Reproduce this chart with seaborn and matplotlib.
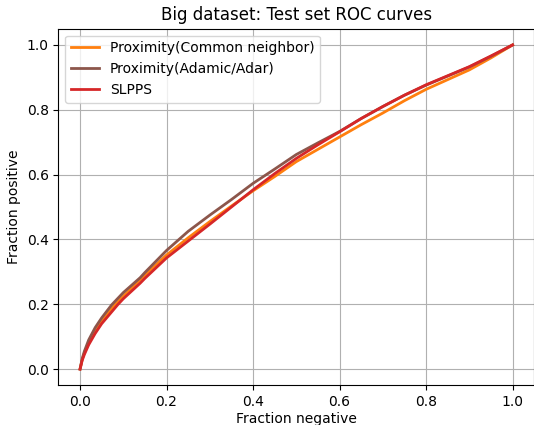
import matplotlib
matplotlib.use("Agg")
import matplotlib.pyplot as plt
import seaborn as sns
import pandas as pd

# ROC curves on the test set (false positive fraction vs true positive fraction)
fpr_common = [0.0, 0.005, 0.01, 0.02, 0.035, 0.05, 0.08, 0.1, 0.15, 0.2, 0.25, 0.3, 0.35, 0.4, 0.45,
              0.5, 0.55, 0.6, 0.65, 0.7, 0.75, 0.8, 0.85, 0.9, 0.95, 1.0]
tpr_common = [0.0, 0.03, 0.05, 0.08, 0.118, 0.148, 0.198, 0.225, 0.29, 0.352, 0.405, 0.455, 0.503, 0.55, 0.594,
              0.64, 0.678, 0.716, 0.754, 0.79, 0.828, 0.863, 0.893, 0.923, 0.96, 1.0]

fpr_adamic = [0.0, 0.005, 0.01, 0.02, 0.035, 0.05, 0.073, 0.1, 0.139, 0.15, 0.2, 0.25, 0.3, 0.35, 0.4,
              0.45, 0.5, 0.55, 0.6, 0.65, 0.7, 0.75, 0.8, 0.85, 0.9, 0.95, 1.0]
tpr_adamic = [0.0, 0.032, 0.055, 0.09, 0.128, 0.158, 0.198, 0.236, 0.282, 0.298, 0.366, 0.425, 0.475, 0.523, 0.573,
              0.617, 0.662, 0.698, 0.733, 0.773, 0.81, 0.845, 0.876, 0.904, 0.932, 0.965, 1.0]

fpr_slpps = [0.0, 0.005, 0.01, 0.02, 0.035, 0.05, 0.088, 0.1, 0.139, 0.15, 0.2, 0.25, 0.3, 0.35, 0.4, 0.45,
             0.5, 0.55, 0.6, 0.65, 0.7, 0.75, 0.8, 0.85, 0.9, 0.95, 1.0]
tpr_slpps = [0.0, 0.027, 0.045, 0.075, 0.11, 0.14, 0.2, 0.217, 0.265, 0.28, 0.343, 0.395, 0.447, 0.5, 0.553, 0.603,
             0.65, 0.692, 0.732, 0.773, 0.81, 0.845, 0.877, 0.905, 0.933, 0.966, 1.0]

series = [
    ("Proximity(Common neighbor)", fpr_common, tpr_common, "#ff7f0e"),
    ("Proximity(Adamic/Adar)", fpr_adamic, tpr_adamic, "#8c564b"),
    ("SLPPS", fpr_slpps, tpr_slpps, "#d62728"),
]

plt.rcParams["font.family"] = ["DejaVu Sans"]
fig = plt.figure(figsize=(5.34, 4.25), dpi=100)
ax = fig.add_axes([0.1094, 0.0934, 0.891, 0.839])

for name, fx, fy, color in series:
    df = pd.DataFrame({"fpr": fx, "tpr": fy})
    sns.lineplot(data=df, x="fpr", y="tpr", ax=ax, color=color, linewidth=2,
                 label=name, estimator=None, sort=False)

ax.set_xlim(-0.05, 1.05)
ax.set_ylim(-0.05, 1.05)
ax.set_xticks([0.0, 0.2, 0.4, 0.6, 0.8, 1.0])
ax.set_yticks([0.0, 0.2, 0.4, 0.6, 0.8, 1.0])
ax.grid(True, color="#b0b0b0", linewidth=0.8)
ax.set_axisbelow(True)
ax.tick_params(labelsize=10)
ax.set_xlabel("Fraction negative", fontsize=10, labelpad=2)
ax.set_ylabel("Fraction positive", fontsize=10)
ax.set_title("Big dataset: Test set ROC curves", fontsize=12)
ax.legend(loc="upper left", fontsize=10)

fig.savefig("out.png", dpi=100)
